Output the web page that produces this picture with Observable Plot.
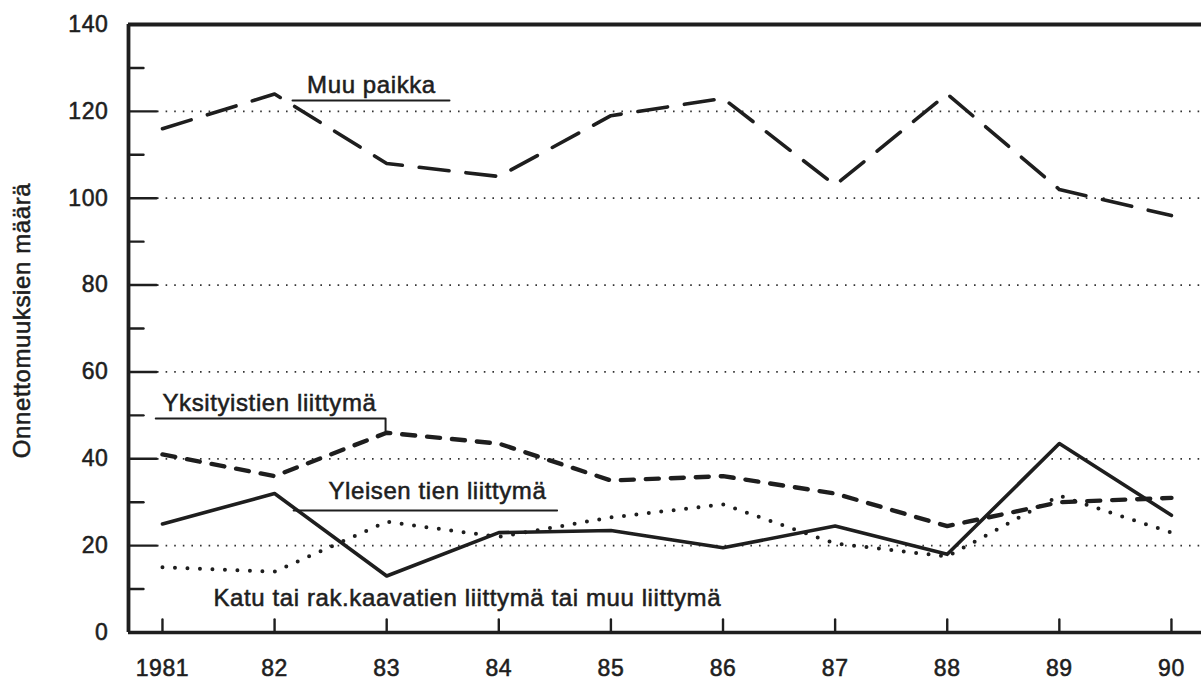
<!DOCTYPE html>
<html>
<head>
<meta charset="utf-8">
<script src="https://cdn.jsdelivr.net/npm/d3@7"></script>
<script src="https://cdn.jsdelivr.net/npm/@observablehq/plot@0.6"></script>
<style>
  html, body { margin: 0; padding: 0; background: #fff; }
  #chart svg { display: block; }
  #chart text { letter-spacing: 0.6px; stroke: #1e1e1e; stroke-width: 0.55px; }
</style>
</head>
<body>
<div id="chart"></div>
<script>
// ---- data ----
const years = [1981, 1982, 1983, 1984, 1985, 1986, 1987, 1988, 1989, 1990];
const yearLabels = ["1981", "82", "83", "84", "85", "86", "87", "88", "89", "90"];
const muuPaikka = [116, 124, 108, 105, 119, 123, 103, 124, 102, 96];
const yksityistienLiittyma = [41, 36, 46, 43.5, 35, 36, 32, 24.5, 30, 31];
const yleisenTienLiittyma = [25, 32, 13, 23, 23.5, 19.5, 24.5, 18, 43.5, 27];
const katuTaiMuuLiittyma = [15, 14, 25.5, 22, 26.5, 29.5, 20.5, 17.5, 31.5, 23];
const yTickLabels = [0, 20, 40, 60, 80, 100, 120, 140];
const yMinorTicks = [10, 30, 50, 70, 90, 110, 130];
const gridValues = [20, 40, 60, 80, 100, 120];
const seriesNames = [
  "Muu paikka",
  "Yksityistien liittymä",
  "Yleisen tien liittymä",
  "Katu tai rak.kaavatien liittymä tai muu liittymä"
];
const yTitle = "Onnettomuuksien määrä";

// label placement (data units)
const labelAt = [
  {text: seriesNames[0], x: 1982.29, y: 124.3},
  {text: seriesNames[1], x: 1981.0, y: 51.1},
  {text: seriesNames[2], x: 1982.48, y: 30.85},
  {text: seriesNames[3], x: 1981.455, y: 6.2}
];
const leaderLines = [
  {id: "muu", pts: [[1982.16, 122.5], [1983.56, 122.5]]},
  {id: "yks", pts: [[1980.94, 49.27], [1982.99, 49.27], [1982.99, 46.3]]},
  {id: "yle", pts: [[1982.17, 28.09], [1984.52, 28.09]]}
];

// ---- build ----
const xDomain = [1980.697, 1990.268];
const ink = "#1e1e1e";
const toRows = vals => years.map((yr, i) => ({year: yr, value: vals[i]}));
const leaderRows = leaderLines.flatMap(l => l.pts.map(([x, y]) => ({id: l.id, x, y})));
const lineShape = {draw(context, l) { context.moveTo(0, 0); context.lineTo(0, -l); }};

const chart = Plot.plot({
  width: 1201,
  height: 686,
  marginLeft: 128,
  marginRight: 0,
  marginTop: 24,
  marginBottom: 54,
  style: {fontFamily: "'Liberation Sans', Arial, Helvetica, sans-serif", color: ink, background: "#fff"},
  x: {domain: xDomain},
  y: {domain: [0, 140]},
  marks: [
    // dotted gridlines
    Plot.ruleY(gridValues, {insetLeft: 29, stroke: "#333", strokeWidth: 1.8, strokeDasharray: "1.6,7"}),
    // frame: bottom, top, left
    Plot.ruleY([0], {stroke: ink, strokeWidth: 3.4}),
    Plot.ruleY([140], {stroke: ink, strokeWidth: 3.8}),
    Plot.ruleX([xDomain[0]], {stroke: ink, strokeWidth: 3.8}),
    // inward ticks
    Plot.vector(yTickLabels.slice(1, -1), {x: () => xDomain[0], y: d => d, rotate: 90, length: 28, anchor: "start", shape: lineShape, stroke: ink, strokeWidth: 2.4}),
    Plot.vector(yMinorTicks, {x: () => xDomain[0], y: d => d, rotate: 90, length: 15, anchor: "start", shape: lineShape, stroke: ink, strokeWidth: 2.4}),
    Plot.vector(years, {x: d => d, y: () => 0, rotate: 0, length: 13, anchor: "start", shape: lineShape, stroke: ink, strokeWidth: 2.4}),
    // axis labels
    Plot.axisY({ticks: yTickLabels, tickSize: 0, tickPadding: 20, fontSize: 23, label: null, tickFormat: d => String(d)}),
    Plot.axisX({ticks: years, tickSize: 0, tickPadding: 27, fontSize: 23, label: null, tickFormat: d => yearLabels[years.indexOf(d)]}),
    Plot.text([yTitle], {frameAnchor: "left", textAnchor: "middle", lineAnchor: "middle", rotate: -90, dx: -106, dy: -8, fontSize: 24, fill: ink}),
    // series
    Plot.line(toRows(muuPaikka), {x: "year", y: "value", stroke: ink, strokeWidth: 3.6, strokeDasharray: "30,17"}),
    Plot.line(toRows(yksityistienLiittyma), {x: "year", y: "value", stroke: ink, strokeWidth: 4.4, strokeDasharray: "13,12"}),
    Plot.line(toRows(yleisenTienLiittyma), {x: "year", y: "value", stroke: ink, strokeWidth: 3.6}),
    Plot.line(toRows(katuTaiMuuLiittyma), {x: "year", y: "value", stroke: ink, strokeWidth: 4, strokeDasharray: "0,12.5", strokeLinecap: "round"}),
    // annotations
    Plot.line(leaderRows, {x: "x", y: "y", z: "id", stroke: ink, strokeWidth: 2, curve: "linear"}),
    Plot.text(labelAt, {x: "x", y: "y", text: "text", textAnchor: "start", lineAnchor: "bottom", fontSize: 24, fill: ink})
  ]
});
document.getElementById("chart").appendChild(chart);
</script>
</body>
</html>
